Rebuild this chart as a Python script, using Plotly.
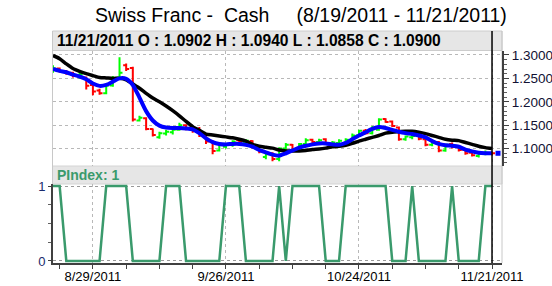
import plotly.graph_objects as go

# ---------------- data ----------------
dates = ["8/19/2011", "8/22/2011", "8/23/2011", "8/24/2011", "8/25/2011", "8/26/2011",
         "8/29/2011", "8/30/2011", "8/31/2011", "9/1/2011", "9/2/2011", "9/5/2011",
         "9/6/2011", "9/7/2011", "9/8/2011", "9/9/2011", "9/12/2011", "9/13/2011",
         "9/14/2011", "9/15/2011", "9/16/2011", "9/19/2011", "9/20/2011", "9/21/2011",
         "9/22/2011", "9/23/2011", "9/26/2011", "9/27/2011", "9/28/2011", "9/29/2011",
         "9/30/2011", "10/3/2011", "10/4/2011", "10/5/2011", "10/6/2011", "10/7/2011",
         "10/10/2011", "10/11/2011", "10/12/2011", "10/13/2011", "10/14/2011", "10/17/2011",
         "10/18/2011", "10/19/2011", "10/20/2011", "10/21/2011", "10/24/2011", "10/25/2011",
         "10/26/2011", "10/27/2011", "10/28/2011", "10/31/2011", "11/1/2011", "11/2/2011",
         "11/3/2011", "11/4/2011", "11/7/2011", "11/8/2011", "11/9/2011", "11/10/2011",
         "11/11/2011", "11/14/2011", "11/15/2011", "11/16/2011", "11/17/2011", "11/18/2011",
         "11/21/2011"]

opens = [1.266, 1.271, 1.265, 1.262, 1.256, 1.252, 1.236, 1.224, 1.218, 1.235, 1.252, 1.278,
         1.272, 1.160, 1.165, 1.142, 1.124, 1.132, 1.135, 1.140, 1.150, 1.146, 1.140, 1.128,
         1.115, 1.096, 1.104, 1.108, 1.118, 1.113, 1.116, 1.103, 1.082, 1.090, 1.078, 1.100,
         1.108, 1.098, 1.110, 1.119, 1.114, 1.120, 1.106, 1.112, 1.110, 1.117, 1.128, 1.138,
         1.133, 1.140, 1.163, 1.158, 1.145, 1.120, 1.124, 1.128, 1.120, 1.108, 1.114, 1.096,
         1.110, 1.104, 1.097, 1.091, 1.084, 1.089, 1.0902]
highs = [1.278, 1.273, 1.268, 1.264, 1.262, 1.254, 1.238, 1.228, 1.238, 1.255, 1.295, 1.282,
         1.275, 1.170, 1.167, 1.143, 1.136, 1.140, 1.143, 1.155, 1.152, 1.148, 1.146, 1.132,
         1.118, 1.112, 1.112, 1.118, 1.122, 1.120, 1.118, 1.106, 1.092, 1.092, 1.103, 1.112,
         1.110, 1.112, 1.122, 1.121, 1.121, 1.122, 1.116, 1.120, 1.122, 1.132, 1.140, 1.142,
         1.148, 1.165, 1.165, 1.160, 1.147, 1.128, 1.132, 1.131, 1.122, 1.118, 1.116, 1.110,
         1.113, 1.106, 1.099, 1.094, 1.092, 1.096, 1.0940]
lows = [1.262, 1.262, 1.258, 1.252, 1.250, 1.226, 1.214, 1.215, 1.216, 1.232, 1.250, 1.266,
        1.158, 1.158, 1.139, 1.126, 1.121, 1.128, 1.130, 1.138, 1.139, 1.134, 1.125, 1.110,
        1.088, 1.094, 1.100, 1.104, 1.112, 1.108, 1.100, 1.090, 1.077, 1.073, 1.073, 1.096,
        1.095, 1.096, 1.107, 1.110, 1.109, 1.108, 1.104, 1.108, 1.106, 1.114, 1.125, 1.130,
        1.130, 1.138, 1.155, 1.146, 1.117, 1.117, 1.120, 1.118, 1.105, 1.105, 1.092, 1.093,
        1.100, 1.094, 1.087, 1.083, 1.081, 1.086, 1.0858]
closes = [1.271, 1.265, 1.262, 1.256, 1.259, 1.234, 1.222, 1.218, 1.235, 1.250, 1.262, 1.270,
          1.162, 1.166, 1.142, 1.129, 1.133, 1.136, 1.140, 1.150, 1.142, 1.138, 1.128, 1.115,
          1.095, 1.108, 1.109, 1.115, 1.114, 1.117, 1.104, 1.094, 1.088, 1.078, 1.100, 1.108,
          1.098, 1.110, 1.118, 1.114, 1.118, 1.110, 1.113, 1.117, 1.119, 1.128, 1.138, 1.133,
          1.145, 1.162, 1.157, 1.148, 1.120, 1.126, 1.127, 1.121, 1.108, 1.115, 1.096, 1.108,
          1.104, 1.097, 1.090, 1.086, 1.089, 1.091, 1.0900]

ma_fast = [1.270, 1.266, 1.263, 1.258, 1.254, 1.248, 1.239, 1.234, 1.236, 1.243, 1.250, 1.249,
           1.236, 1.209, 1.180, 1.160, 1.149, 1.145, 1.144, 1.144, 1.143, 1.141, 1.133, 1.122,
           1.114, 1.110, 1.109, 1.110, 1.110, 1.108, 1.104, 1.097, 1.092, 1.087, 1.085, 1.090,
           1.096, 1.102, 1.106, 1.109, 1.111, 1.111, 1.109, 1.108, 1.112, 1.120, 1.128, 1.135,
           1.142, 1.146, 1.144, 1.140, 1.136, 1.133, 1.131, 1.128, 1.124, 1.116, 1.110, 1.107,
           1.106, 1.104, 1.098, 1.094, 1.091, 1.090, 1.090]
ma_slow = [1.299, 1.292, 1.281, 1.271, 1.265, 1.260, 1.256, 1.252, 1.251, 1.250, 1.250, 1.247,
           1.238, 1.229, 1.218, 1.208, 1.200, 1.191, 1.181, 1.170, 1.158, 1.147, 1.139, 1.131,
           1.129, 1.127, 1.125, 1.123, 1.120, 1.116, 1.109, 1.105, 1.103, 1.101, 1.097, 1.095,
           1.095, 1.095, 1.096, 1.098, 1.099, 1.101, 1.104, 1.105, 1.107, 1.111, 1.116, 1.120,
           1.124, 1.128, 1.133, 1.135, 1.136, 1.137, 1.137, 1.135, 1.132, 1.128, 1.124, 1.120,
           1.118, 1.117, 1.113, 1.109, 1.105, 1.102, 1.100]

pindex = [1, 1, 0, 0, 0, 0, 0, 0, 1, 1, 1, 1, 0, 0, 0, 0, 0, 1, 1, 1, 0, 0, 0, 0, 0, 0,
          1, 1, 1, 0, 0, 0, 0, 0, 1, 0, 1, 1, 1, 1, 1, 0, 0, 0, 1, 1, 1, 1, 1, 1, 1, 0,
          0, 0, 1, 0, 0, 0, 0, 0, 1, 0, 0, 0, 0, 1, 1]

price_ticks = [1.10, 1.15, 1.20, 1.25, 1.30]
price_ticktext = ["1.1000", "1.1500", "1.2000", "1.2500", "1.3000"]
date_tick_labels = ["8/29/2011", "9/26/2011", "10/24/2011", "11/21/2011"]

title_text = "Swiss Franc -\u00a0\u00a0Cash\u00a0\u00a0\u00a0\u00a0\u00a0(8/19/2011 - 11/21/2011)"
header_text = "11/21/2011 O : 1.0902 H : 1.0940 L : 1.0858 C : 1.0900"
pindex_text = "PIndex: 1"

# ---------------- layout helpers ----------------
W, H = 552, 286
def px_x(p):
    return p / W
def px_y(p):
    return 1 - p / H

idx = list(range(len(dates)))
date_tick_idx = [dates.index(d) for d in date_tick_labels]
last = idx[-1]

FONT = "Liberation Sans, Arial, sans-serif"
GREEN_P = "#3a9a6c"

fig = go.Figure()

fig.add_trace(go.Ohlc(
    x=idx, open=opens, high=highs, low=lows, close=closes,
    increasing=dict(line=dict(color="#00ff00", width=2)),
    decreasing=dict(line=dict(color="#ff0000", width=2)),
    tickwidth=0.45, xaxis="x", yaxis="y", showlegend=False, hoverinfo="skip"))

fig.add_trace(go.Scatter(x=idx, y=ma_slow, mode="lines",
                         line=dict(color="#000000", width=3.5, shape="spline", smoothing=0.6),
                         xaxis="x", yaxis="y", showlegend=False, hoverinfo="skip"))
fig.add_trace(go.Scatter(x=idx, y=ma_fast, mode="lines",
                         line=dict(color="#0000ff", width=4, shape="spline", smoothing=0.6),
                         xaxis="x", yaxis="y", showlegend=False, hoverinfo="skip"))
# current value marker at the right edge
fig.add_trace(go.Scatter(x=[last + 0.9], y=[closes[-1]], mode="markers",
                         marker=dict(symbol="square", size=5, color="#0000ff",
                                     line=dict(width=0)),
                         xaxis="x", yaxis="y", showlegend=False, hoverinfo="skip",
                         cliponaxis=False))

fig.add_trace(go.Scatter(x=idx, y=pindex, mode="lines",
                         line=dict(color=GREEN_P, width=2.5),
                         xaxis="x2", yaxis="y2", showlegend=False, hoverinfo="skip"))

x_dom = [px_x(53), px_x(502)]
x_rng = [0.0, 67.5]

fig.update_layout(
    width=W, height=H, autosize=False,
    margin=dict(l=0, r=0, t=0, b=0, autoexpand=False),
    paper_bgcolor="white", plot_bgcolor="white",
    showlegend=False,
    font=dict(family=FONT, size=13, color="#000000"),
    xaxis=dict(domain=x_dom, range=x_rng, anchor="y", automargin=False,
               tickmode="array", tickvals=date_tick_idx, ticktext=[""] * len(date_tick_idx),
               showticklabels=False, ticks="",
               showgrid=True, gridcolor="#b8b8b8", griddash="dot", gridwidth=1,
               zeroline=False, showline=False,
               rangeslider=dict(visible=False), fixedrange=True),
    yaxis=dict(domain=[px_y(166), px_y(51)], range=[1.0628, 1.3085], anchor="x",
               automargin=False,
               side="right", tickmode="array", tickvals=price_ticks, ticktext=price_ticktext,
               ticks="outside", ticklen=5, tickcolor="#404040", tickwidth=1,
               minor=dict(dtick=0.01, tick0=1.0, ticks="outside", ticklen=3,
                          tickcolor="#606060", showgrid=False),
               showgrid=True, gridcolor="#b8b8b8", griddash="dot", gridwidth=1,
               zeroline=False, showline=True, linecolor="#404040", linewidth=2,
               tickfont=dict(family=FONT, size=13.5, color="#111133"), fixedrange=True),
    xaxis2=dict(domain=x_dom, range=x_rng, anchor="y2", automargin=False,
                tickmode="array", tickvals=date_tick_idx, ticktext=date_tick_labels,
                ticks="", ticklen=0,
                minor=dict(tick0=1, dtick=5, ticks="outside", ticklen=4,
                           tickcolor="#404040", showgrid=False),
                showgrid=True, gridcolor="#b8b8b8", griddash="dot", gridwidth=1,
                zeroline=False, showline=True, linecolor="#404040", linewidth=2,
                tickfont=dict(family=FONT, size=13, color="#000000"), fixedrange=True),
    yaxis2=dict(domain=[px_y(263), px_y(184)], range=[-0.027, 1.027], anchor="x2",
                automargin=False,
                side="left", tickmode="array", tickvals=[0, 1], ticktext=["0", "1"],
                ticks="outside", ticklen=3, tickcolor="#404040",
                minor=dict(dtick=0.25, tick0=0, ticks="outside", ticklen=3,
                           tickcolor="#606060", showgrid=False),
                showgrid=True, gridcolor="#999999", griddash="dot", gridwidth=1,
                zeroline=False, showline=True, linecolor="#404040", linewidth=2,
                tickfont=dict(family=FONT, size=13, color="#1a2a6c"), fixedrange=True),
)

shapes = [
    # header bar
    dict(type="rect", xref="paper", yref="paper",
         x0=px_x(52.5), x1=px_x(502), y0=px_y(50.5), y1=px_y(31),
         fillcolor="#e6e6e6", line=dict(color="#cccccc", width=1), layer="below"),
    # PIndex bar
    dict(type="rect", xref="paper", yref="paper",
         x0=px_x(52.5), x1=px_x(502), y0=px_y(184), y1=px_y(166),
         fillcolor="#e6e6e6", line=dict(color="#d4d4d4", width=1), layer="below"),
    # panel side borders
    dict(type="line", xref="paper", yref="paper",
         x0=px_x(52.5), x1=px_x(52.5), y0=px_y(263), y1=px_y(31),
         line=dict(color="#c8c8c8", width=1), layer="below"),
    dict(type="line", xref="paper", yref="paper",
         x0=px_x(502), x1=px_x(502), y0=px_y(263), y1=px_y(31),
         line=dict(color="#c8c8c8", width=1), layer="below"),
    # cursor line at last date
    dict(type="line", xref="x", yref="paper",
         x0=last, x1=last, y0=px_y(263), y1=px_y(31),
         line=dict(color="#000000", width=1.5), layer="above"),
]
fig.update_layout(shapes=shapes)

annotations = [
    dict(text=title_text, xref="paper", yref="paper", x=px_x(93), y=px_y(15),
         xanchor="left", yanchor="middle", showarrow=False,
         font=dict(family=FONT, size=19.5, color="#000000")),
    dict(text="<b>" + header_text + "</b>", xref="paper", yref="paper",
         x=px_x(55), y=px_y(41), xanchor="left", yanchor="middle", showarrow=False,
         font=dict(family=FONT, size=15.6, color="#000000")),
    dict(text="<b>" + pindex_text + "</b>", xref="paper", yref="paper",
         x=px_x(55), y=px_y(175), xanchor="left", yanchor="middle", showarrow=False,
         font=dict(family=FONT, size=14, color=GREEN_P)),
]
fig.update_layout(annotations=annotations)

fig.write_html("out.html")
